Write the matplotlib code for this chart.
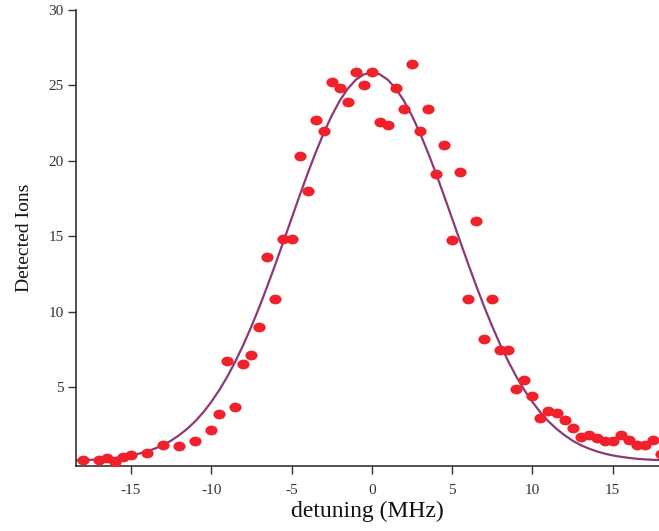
import numpy as np
import matplotlib
matplotlib.use("Agg")
import matplotlib.pyplot as plt
from matplotlib.path import Path
from matplotlib.transforms import Affine2D

plt.rcParams["font.family"] = ["Liberation Serif", "DejaVu Serif"]
plt.rcParams["axes.unicode_minus"] = False

# measured ion counts vs detuning (MHz)
detuning = [-18, -17, -16.5, -16, -15.5, -15, -14, -13, -12, -11, -10, -9.5,
            -9, -8.5, -8, -7.5, -7, -6.5, -6, -5.5, -5, -4.5, -4, -3.5, -3,
            -2.5, -2, -1.5, -1, -0.5, 0, 0.5, 1, 1.5, 2, 2.5, 3, 3.5, 4, 4.5,
            5, 5.5, 6, 6.5, 7, 7.5, 8, 8.5, 9, 9.5, 10, 10.5, 11, 11.5, 12,
            12.5, 13, 13.5, 14, 14.5, 15, 15.5, 16, 16.5, 17, 17.5, 18]
ions = [0.2, 0.2, 0.3, 0.05, 0.4, 0.5, 0.6, 1.15, 1.1, 1.4, 2.15, 3.2,
        6.7, 3.7, 6.55, 7.15, 9.0, 13.6, 10.85, 14.8, 14.8, 20.3, 18.0, 22.7, 22.0,
        25.25, 24.8, 23.9, 25.9, 25.05, 25.9, 22.55, 22.4, 24.8, 23.45, 26.4, 21.95, 23.45, 19.15, 21.05,
        14.75, 19.25, 10.85, 16.0, 8.2, 10.85, 7.45, 7.45, 4.85, 5.45, 4.4, 2.95, 3.4, 3.3, 2.8,
        2.3, 1.7, 1.8, 1.6, 1.45, 1.4, 1.8, 1.5, 1.15, 1.15, 1.5, 0.55]

# fitted curve
fit_x = [-18.5, -18, -17.5, -17, -16.5, -16, -15.5, -15, -14.5, -14, -13.5, -13,
         -12.5, -12, -11.5, -11, -10.5, -10, -9.5, -9, -8.5, -8, -7.5, -7,
         -6.5, -6, -5.5, -5, -4.5, -4, -3.5, -3, -2.5, -2, -1.5, -1, -0.5, 0,
         0.5, 1, 1.5, 2, 2.5, 3, 3.5, 4, 4.5, 5, 5.5, 6, 6.5, 7, 7.5, 8,
         8.5, 9, 9.5, 10, 10.5, 11, 11.5, 12, 12.5, 13, 13.5, 14, 14.5, 15,
         15.5, 16, 16.5, 17, 17.5, 18]
fit_y = [0.15, 0.16, 0.18, 0.21, 0.25, 0.31, 0.38, 0.47, 0.59, 0.74, 0.93, 1.16,
         1.45, 1.81, 2.23, 2.73, 3.32, 4.01, 4.80, 5.69, 6.70, 7.80, 9.02, 10.32,
         11.71, 13.16, 14.66, 16.17, 17.68, 19.15, 20.54, 21.83, 22.99, 23.98, 24.78, 25.37, 25.73, 25.85,
         25.73, 25.37, 24.78, 23.98, 22.99, 21.83, 20.54, 19.15, 17.68, 16.17, 14.66, 13.16, 11.71, 10.32, 9.02, 7.80,
         6.70, 5.69, 4.80, 4.01, 3.32, 2.73, 2.23, 1.81, 1.45, 1.16, 0.93, 0.74, 0.59, 0.47,
         0.38, 0.31, 0.25, 0.21, 0.18, 0.16]

# slightly flattened dot, as in the original scan
dot = Path.unit_circle().transformed(Affine2D().scale(1.0, 0.8))

fig = plt.figure(figsize=(6.59, 5.31), dpi=100)
ax = fig.add_axes([0.1153, 0.1224, 0.8847, 0.8588])

ax.plot(fit_x, fit_y, color="#8a3a78", lw=1.6, zorder=2)
ax.plot(detuning, ions, linestyle="none", marker=dot, ms=8.8,
        color="#f0212b", mec="none", zorder=3, clip_on=True)

ax.set_xlim(-18.42, 17.88)
ax.set_ylim(-0.23, 30)
ax.set_xticks([-15, -10, -5, 0, 5, 10, 15])
ax.set_yticks([5, 10, 15, 20, 25, 30])

for side in ("top", "right"):
    ax.spines[side].set_visible(False)
for side in ("left", "bottom"):
    ax.spines[side].set_color("#222222")
    ax.spines[side].set_linewidth(1.1)

ax.tick_params(axis="both", direction="out", length=6, width=1.0,
               color="#333333", labelcolor="#333333", labelsize=11)
ax.tick_params(axis="y", pad=3)
ax.tick_params(axis="x", pad=7)

ax.set_xlabel("detuning (MHz)", fontsize=17, color="#111111", labelpad=3)
ax.set_ylabel("Detected Ions", fontsize=14, color="#111111", labelpad=11)

fig.savefig("out.png", dpi=100)
